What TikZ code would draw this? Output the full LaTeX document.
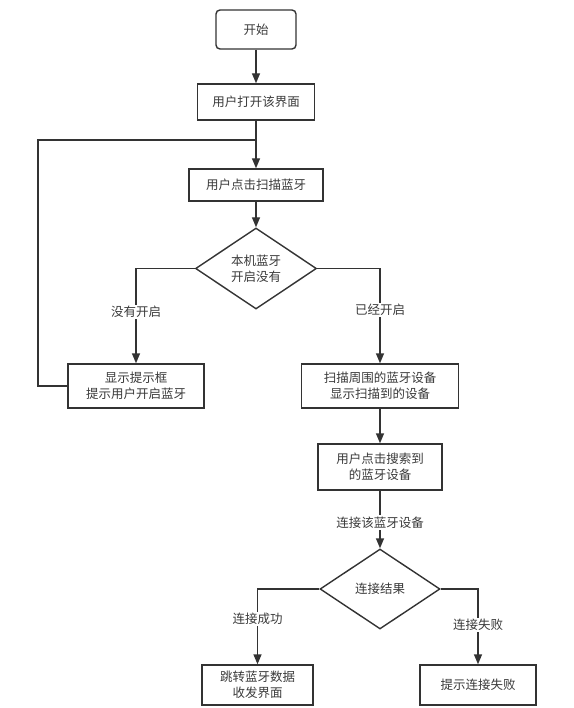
\documentclass[tikz,border=0pt]{standalone}
\usepackage{fontspec}
\newfontfamily\cjk{Noto Sans CJK SC}
\usetikzlibrary{shapes.geometric,arrows.meta}
\definecolor{ink}{HTML}{333333}
\definecolor{txt}{HTML}{3A3A3A}
\tikzset{
  boxstyle/.style={draw=ink, line width=1.4pt, fill=white, rectangle, inner sep=0pt, align=center, text=txt, font=\cjk\fontsize{12.5}{16}\selectfont},
  decstyle/.style={draw=ink, line width=1.4pt, fill=white, diamond, inner sep=0pt},
  txtstyle/.style={align=center, text=txt, font=\cjk\fontsize{12.5}{16}\selectfont, inner sep=0pt},
  lbl/.style={fill=white, text=txt, font=\cjk\fontsize{12.5}{15}\selectfont, inner sep=1.5pt},
  conn/.style={draw=ink, line width=1.4pt},
  arr/.style={conn, -{Triangle[length=10pt,width=8pt]}}
}
\begin{document}
\begin{tikzpicture}[x=1pt,y=-1pt]
\useasboundingbox (0,0) rectangle (573,708);
\node[boxstyle, rounded corners=4pt, minimum width=80pt, minimum height=39pt] (start) at (256,29.5) {开始};
\node[boxstyle, minimum width=117pt, minimum height=36pt] (b2) at (256,102) {用户打开该界面};
\node[boxstyle, minimum width=134pt, minimum height=32pt] (b3) at (256,185) {用户点击扫描蓝牙};
\node[decstyle, minimum width=121pt, minimum height=81pt] (d1) at (256,268.5) {};
\node[txtstyle] (d1t) at (256,268.5) {本机蓝牙\\开启没有};
\node[boxstyle, minimum width=136pt, minimum height=44pt] (bl) at (136,386) {显示提示框\\提示用户开启蓝牙};
\node[boxstyle, minimum width=157pt, minimum height=44pt] (br) at (380,386) {扫描周围的蓝牙设备\\显示扫描到的设备};
\node[boxstyle, minimum width=124pt, minimum height=46pt] (b4) at (380,467) {用户点击搜索到\\的蓝牙设备};
\node[decstyle, minimum width=120pt, minimum height=80pt] (d2) at (380,589) {};
\node[txtstyle] (d2t) at (380,589) {连接结果};
\node[boxstyle, minimum width=111pt, minimum height=40pt] (bs) at (257.5,685) {跳转蓝牙数据\\收发界面};
\node[boxstyle, minimum width=116pt, minimum height=40pt] (bf) at (478,685) {提示连接失败};
\coordinate (j) at (256,140);
\coordinate (lx) at (38,0);

\draw[arr] (start) -- (b2);
\draw[arr] (b2) -- (b3);
\draw[conn] (bl.west) -- (bl.west -| lx) |- (j);
\draw[arr] (b3) -- (d1);
\draw[arr] (d1.west) -| node[lbl, pos=0.73] {没有开启} (bl);
\draw[arr] (d1.east) -| node[lbl, pos=0.72] {已经开启} (br);
\draw[arr] (br) -- (b4);
\draw[arr] (b4) -- node[lbl, pos=0.55] {连接该蓝牙设备} (d2);
\draw[arr] (d2.west) -| node[lbl, pos=0.70] {连接成功} (bs);
\draw[arr] (d2.east) -| node[lbl, pos=0.74] {连接失败} (bf);
\end{tikzpicture}
\end{document}
